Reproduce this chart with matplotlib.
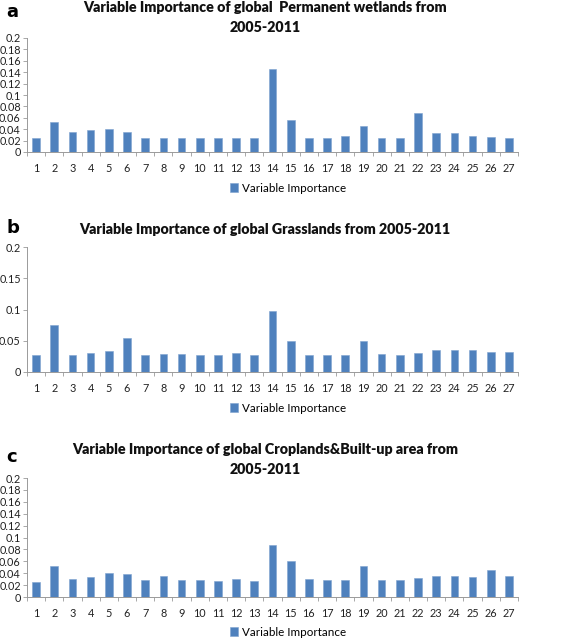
import numpy as np
import matplotlib.pyplot as plt
from matplotlib.ticker import FixedLocator

plt.rcParams['font.family'] = ['Lato', 'DejaVu Sans']

variables = list(range(1, 28))

wetlands = [0.025, 0.053, 0.035, 0.038, 0.041, 0.035, 0.024, 0.025, 0.025,
            0.025, 0.025, 0.025, 0.025, 0.146, 0.056, 0.025, 0.025, 0.028,
            0.045, 0.025, 0.025, 0.069, 0.034, 0.033, 0.028, 0.026, 0.025]

grasslands = [0.027, 0.075, 0.028, 0.031, 0.034, 0.054, 0.028, 0.029, 0.029,
              0.028, 0.027, 0.030, 0.027, 0.098, 0.049, 0.028, 0.028, 0.027,
              0.049, 0.029, 0.028, 0.031, 0.035, 0.035, 0.035, 0.032, 0.032]

croplands = [0.025, 0.052, 0.030, 0.033, 0.040, 0.038, 0.028, 0.036, 0.028,
             0.028, 0.027, 0.030, 0.027, 0.087, 0.060, 0.030, 0.028, 0.028,
             0.052, 0.029, 0.029, 0.032, 0.036, 0.036, 0.033, 0.045, 0.035]

panels = [
    ("a", ["Variable Importance of global  Permanent wetlands from", "2005-2011"],
     wetlands, np.arange(0, 0.201, 0.02)),
    ("b", ["Variable Importance of global Grasslands from 2005-2011"],
     grasslands, np.arange(0, 0.201, 0.05)),
    ("c", ["Variable Importance of global Croplands&Built-up area from", "2005-2011"],
     croplands, np.arange(0, 0.201, 0.02)),
]

W, H = 572, 640
fig = plt.figure(figsize=(W / 100, H / 100), dpi=100)

# pixel layout: top of axes, bottom of axes, title line y's, letter y, legend y
layout = [
    (38, 152, [8, 28], 12, 188),
    (247, 372, [230], 228, 408),
    (478, 597, [450, 470], 457, 632),
]

bar_color = "#4F81BD"
axis_color = "#9a9a9a"
x_left, x_right = 27, 518

for (letter, title_lines, vals, yticks), (top, bot, ty, ly, legy) in zip(panels, layout):
    ax = fig.add_axes([x_left / W, 1 - bot / H, (x_right - x_left) / W, (bot - top) / H])
    bars = ax.bar(variables, vals, width=0.42, color=bar_color,
                  edgecolor="#7fa3d0", linewidth=0.4, label="Variable Importance")
    ax.set_xlim(0.5, 27.5)
    ax.set_ylim(0, 0.2)
    ax.set_xticks(variables)
    ax.set_xticklabels([str(v) for v in variables], fontsize=7.8, color="#222222")
    ax.xaxis.set_minor_locator(FixedLocator(np.arange(0.5, 28, 1)))
    ax.tick_params(axis="x", which="major", length=0, pad=8)
    ax.tick_params(axis="x", which="minor", length=3, color=axis_color, width=0.6)
    ax.set_yticks(yticks)
    ax.set_yticklabels([f"{t:g}" for t in yticks], fontsize=7.8, color="#222222")
    ax.tick_params(axis="y", length=3, color=axis_color, width=0.6, pad=1.5)
    for s in ["top", "right"]:
        ax.spines[s].set_visible(False)
    for s in ["left", "bottom"]:
        ax.spines[s].set_color(axis_color)
        ax.spines[s].set_linewidth(0.7)

    for i, line in enumerate(title_lines):
        fig.text(265 / W, 1 - ty[i] / H, line, ha="center", va="center",
                 fontsize=10.3, fontweight="heavy", color="#111111")
    fig.text(6 / W, 1 - ly / H, letter, ha="left", va="center",
             fontsize=13, fontweight="bold", family="DejaVu Sans")

    fig.legend(handles=[bars], labels=["Variable Importance"],
               loc="center", bbox_to_anchor=(288 / W, 1 - legy / H),
               frameon=False, fontsize=8.4, handlelength=0.7, handleheight=0.7,
               handletextpad=0.3)

fig.savefig("out.png", dpi=100)
